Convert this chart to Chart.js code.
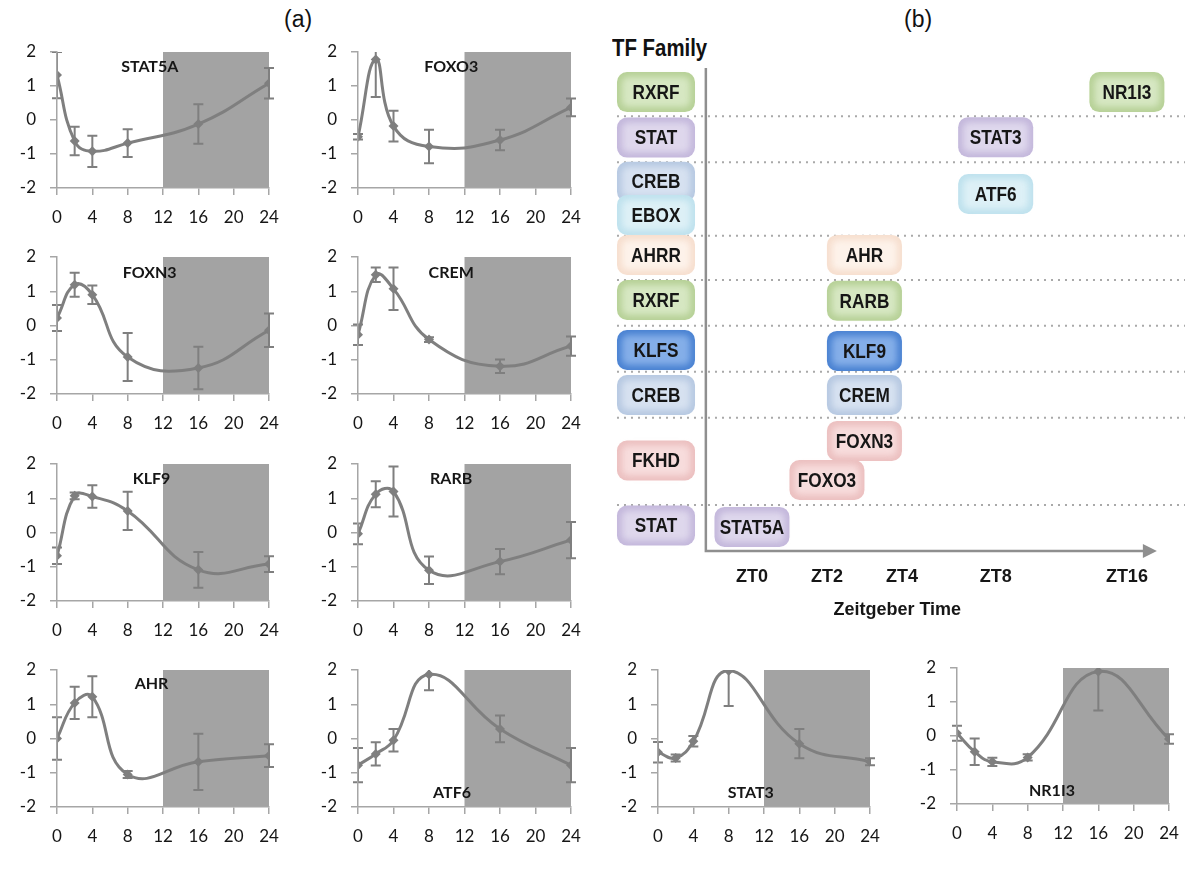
<!DOCTYPE html>
<html>
<head>
<meta charset="utf-8">
<title>TF expression profiles</title>
<script src="https://cdn.jsdelivr.net/npm/chart.js@4.4.1/dist/chart.umd.min.js"></script>
<style>
html,body{margin:0;padding:0;background:#fff}
body{position:relative;width:1200px;height:871px;overflow:hidden}
canvas{position:absolute}
.lbl{position:absolute;color:#111;white-space:nowrap}
.panel{font:23px "Liberation Sans",Arial,sans-serif}
.tf{font:bold 24px "Liberation Sans",Arial,sans-serif;transform:scaleX(.85);transform-origin:left top}
</style>
</head>
<body>
<div class="lbl panel" style="left:284px;top:6px">(a)</div>
<div class="lbl panel" style="left:904px;top:6px">(b)</div>
<div class="lbl tf" style="left:612px;top:34px">TF Family</div>
<script>
// (a) time-course profiles, sampled at these hours
const hours=[0,2,4,8,16,24];
const darkPeriod=[12,24];

const geneNames=["STAT5A","FOXO3","FOXN3","CREM","KLF9","RARB","AHR","ATF6","STAT3","NR1I3"];
const stat5a=[1.32,-0.62,-0.92,-0.68,-0.12,1.08];
const stat5aErr=[0.68,0.42,0.46,0.41,0.58,0.45];
const foxo3=[-0.49,1.78,-0.18,-0.78,-0.59,0.37];
const foxo3Err=[0.08,1.1,0.45,0.49,0.3,0.26];
const foxn3=[0.22,1.19,0.9,-0.92,-1.24,-0.14];
const foxn3Err=[0.38,0.35,0.27,0.7,0.62,0.49];
const crem=[-0.27,1.48,1.07,-0.41,-1.19,-0.6];
const cremErr=[0.3,0.21,0.62,0.07,0.2,0.28];
const klf9=[-0.68,1.07,1.05,0.63,-1.09,-0.92];
const klf9Err=[0.24,0.1,0.33,0.56,0.52,0.23];
const rarb=[-0.04,1.12,1.2,-1.1,-0.85,-0.22];
const rarbErr=[0.3,0.38,0.73,0.4,0.37,0.53];
const ahr=[0,1.04,1.22,-1.05,-0.68,-0.5];
const ahrErr=[0.62,0.47,0.6,0.1,0.82,0.33];
const atf6=[-0.78,-0.45,-0.05,1.87,0.28,-0.78];
const atf6Err=[0.5,0.34,0.33,0.46,0.39,0.5];
const stat3=[-0.4,-0.57,-0.08,1.98,-0.15,-0.68];
const stat3Err=[0.3,0.1,0.15,1.03,0.43,0.1];
const nr1i3=[0.08,-0.46,-0.76,-0.63,1.9,-0.09];
const nr1i3Err=[0.22,0.39,0.12,0.09,1.15,0.14];
const series=[stat5a,foxo3,foxn3,crem,klf9,rarb,ahr,atf6,stat3,nr1i3];
const errors=[stat5aErr,foxo3Err,foxn3Err,cremErr,klf9Err,rarbErr,ahrErr,atf6Err,stat3Err,nr1i3Err];
// where the gene name sits, in data units
const nameX=[10.5,10.5,10.5,10.5,10.7,10.5,10.7,10.6,10.5,10.75];
const nameY=[1.57,1.57,1.53,1.54,1.56,1.56,1.59,-1.58,-1.58,-1.61];

// (b) peak-time diagram
const familyNames=["RXRF","STAT","CREB","EBOX","AHRR","RXRF","KLFS","CREB","FKHD","STAT"];
const familyRows=[0,1,1.97,2.7,3.58,4.57,5.67,6.66,8.1,9.53];
const tfNames=["NR1I3","STAT3","ATF6","AHR","RARB","KLF9","CREM","FOXN3","FOXO3","STAT5A"];
const tfFamily=["RXRF","STAT","EBOX","AHRR","RXRF","KLFS","CREB","FKHD","FKHD","STAT"];
const tfPeak=[10,6.5,6.5,3,3,3,3,3,2,0];
const tfRows=[0,0.99,2.24,3.58,4.59,5.69,6.66,7.67,8.53,9.56];
const rowBreaks=[0.53,1.54,3.16,4.13,5.14,6.15,7.16,9.08];
const ztTicks=[0,2,4,6.5,10];
const ztLabels=["ZT0","ZT2","ZT4","ZT8","ZT16"];

// layout / style
const plotBoxes=[[57,52,269,188],[358,52,571,188],[57,257,269,394],[358,257,571,394],[57,464,269,601],[358,464,571,601],[57,670,269,807],[358,670,571,807],[658,670,870,807],[957,668,1169,804]];
const LINE="#7f7f7f",AXIS="#a6a6a6",SHADE="#a3a3a3",INK="#161616";
const boxColors={RXRF:["#b7d197","#d6e7c2"],STAT:["#c4b8dc","#ded7ec"],CREB:["#b7c9e2","#d6e1f0"],EBOX:["#bfe2ee","#ddf0f6"],AHRR:["#f7dfcf","#fdf2ea"],KLFS:["#4a82d2","#84aee8"],FKHD:["#ecc0c0","#f7dcdc"]};
const NARROW='"Liberation Sans",Arial,sans-serif';

const shade={id:"shade",beforeDatasetsDraw(chart){
  const {ctx,scales:{x,y}}=chart;
  const x0=x.getPixelForValue(darkPeriod[0]),x1=x.getPixelForValue(darkPeriod[1]);
  const y0=y.getPixelForValue(y.max),y1=y.getPixelForValue(y.min);
  ctx.save();ctx.fillStyle=SHADE;ctx.fillRect(x0,y0,x1-x0,y1-y0);ctx.restore();
}};

const errorBars={id:"errorBars",afterDatasetsDraw(chart){
  const {ctx,scales:{x,y},chartArea:a}=chart;
  const i=chart.options.plugins.geneIdx;
  ctx.save();
  ctx.beginPath();ctx.rect(a.left-8,a.top,a.width+16,a.height);ctx.clip();
  ctx.strokeStyle=LINE;ctx.lineWidth=2;
  hours.forEach((h,j)=>{
    const px=x.getPixelForValue(h);
    const hi=y.getPixelForValue(series[i][j]+errors[i][j]);
    const lo=y.getPixelForValue(series[i][j]-errors[i][j]);
    ctx.beginPath();
    ctx.moveTo(px,hi);ctx.lineTo(px,lo);
    ctx.moveTo(px-5,hi);ctx.lineTo(px+5,hi);
    ctx.moveTo(px-5,lo);ctx.lineTo(px+5,lo);
    ctx.stroke();
  });
  ctx.fillStyle=INK;ctx.font="bold 16px Lato, 'Open Sans', sans-serif";
  ctx.textAlign="center";ctx.textBaseline="middle";
  ctx.fillText(geneNames[i],x.getPixelForValue(nameX[i]),y.getPixelForValue(nameY[i]));
  ctx.restore();
}};

function smallChart(i){
  const [l,t,r,b]=plotBoxes[i];
  const cv=document.createElement("canvas");
  const W=r-l+77,H=b-t+54;
  cv.width=W;cv.height=H;
  cv.style.left=(l-57)+"px";cv.style.top=(t-12)+"px";
  document.body.appendChild(cv);
  const tickFont={family:"Lato, 'Open Sans', sans-serif",size:17};
  new Chart(cv,{
    type:"line",
    data:{datasets:[{
      data:hours.map((h,j)=>({x:h,y:series[i][j]})),
      borderColor:LINE,backgroundColor:LINE,borderWidth:3,tension:0.45,
      pointStyle:"rectRot",pointRadius:5,pointBorderWidth:0
    }]},
    options:{
      responsive:false,animation:false,events:[],devicePixelRatio:1,
      layout:{padding:{left:0,top:12,right:20,bottom:0}},
      plugins:{legend:{display:false},tooltip:{enabled:false},geneIdx:i},
      scales:{
        x:{type:"linear",min:0,max:24,
          afterFit(s){s.height=42;s.paddingLeft=0;s.paddingRight=0;},
          ticks:{stepSize:4,padding:12,color:INK,font:tickFont,maxRotation:0},
          grid:{drawOnChartArea:false,color:AXIS,lineWidth:1.5,tickLength:7},
          border:{color:AXIS,width:1.5,z:1}},
        y:{type:"linear",min:-2,max:2,
          afterFit(s){s.width=57;s.paddingTop=0;s.paddingBottom=0;},
          ticks:{stepSize:1,padding:14,color:INK,font:tickFont},
          grid:{drawOnChartArea:false,color:AXIS,lineWidth:1.5,tickLength:7},
          border:{color:AXIS,width:1.5,z:1}}
      }
    },
    plugins:[shade,errorBars]
  });
}
geneNames.forEach((g,i)=>smallChart(i));

// (b)
function drawBox(ctx,cx,cy,w,h,text,fam){
  const [edge,mid]=boxColors[fam];
  ctx.save();
  ctx.fillStyle=edge;ctx.beginPath();ctx.roundRect(cx-w/2,cy-h/2,w,h,10);ctx.fill();
  ctx.filter="blur(3px)";ctx.fillStyle=mid;
  ctx.beginPath();ctx.roundRect(cx-w/2+5,cy-h/2+5,w-10,h-10,6);ctx.fill();
  ctx.filter="none";
  ctx.fillStyle=INK;ctx.font="bold 21px "+NARROW;ctx.textAlign="center";ctx.textBaseline="middle";
  ctx.translate(cx,cy+1);ctx.scale(0.82,1);ctx.fillText(text,0,0);
  ctx.restore();
}

const familyCol=-2.56,timeAxisX=-1.23,arrowTip=10.8;
const diagram={id:"diagram",afterDatasetsDraw(chart){
  const {ctx,scales:{x,y},chartArea:a}=chart;
  const fx=x.getPixelForValue(familyCol);
  ctx.save();
  ctx.strokeStyle="#a9a9a9";ctx.lineWidth=2;ctx.setLineDash([2,5]);
  rowBreaks.forEach(v=>{
    const py=y.getPixelForValue(v);
    ctx.beginPath();ctx.moveTo(fx-39,py);ctx.lineTo(a.right,py);ctx.stroke();
  });
  ctx.setLineDash([]);
  const ax=x.getPixelForValue(timeAxisX),tip=x.getPixelForValue(arrowTip);
  ctx.strokeStyle="#8f8f8f";ctx.lineWidth=2.5;
  ctx.beginPath();ctx.moveTo(ax,a.top);ctx.lineTo(ax,a.bottom);ctx.lineTo(tip-12,a.bottom);ctx.stroke();
  ctx.fillStyle="#8f8f8f";ctx.beginPath();
  ctx.moveTo(tip,a.bottom);ctx.lineTo(tip-14,a.bottom-7);ctx.lineTo(tip-14,a.bottom+7);ctx.closePath();ctx.fill();
  ctx.restore();
  familyNames.forEach((n,i)=>drawBox(ctx,fx,y.getPixelForValue(familyRows[i]),78,40,n,n));
  tfNames.forEach((n,i)=>drawBox(ctx,x.getPixelForValue(tfPeak[i]),y.getPixelForValue(tfRows[i]),75,40,n,tfFamily[i]));
}};

const cvB=document.createElement("canvas");
cvB.width=600;cvB.height=600;cvB.style.left="600px";cvB.style.top="30px";
document.body.appendChild(cvB);
new Chart(cvB,{
  type:"scatter",
  data:{datasets:[
    {label:"TF",data:tfNames.map((n,i)=>({x:tfPeak[i],y:tfRows[i]})),pointRadius:0},
    {label:"Family",data:familyNames.map((n,i)=>({x:familyCol,y:familyRows[i]})),pointRadius:0}
  ]},
  options:{
    responsive:false,animation:false,events:[],devicePixelRatio:1,
    layout:{padding:{left:9.5,right:15,top:38,bottom:0}},
    plugins:{legend:{display:false},tooltip:{enabled:false}},
    scales:{
      x:{type:"linear",min:-3.8,max:11.55,
        afterBuildTicks(s){s.ticks=ztTicks.map(v=>({value:v}));},
        afterFit(s){s.height=79;s.paddingLeft=0;s.paddingRight=0;},
        grid:{display:false,drawTicks:false},border:{display:false},
        ticks:{padding:15,color:INK,autoSkip:false,maxRotation:0,font:{family:NARROW,weight:"bold",size:18},
          callback:v=>ztLabels[ztTicks.indexOf(v)]},
        title:{display:true,text:"Zeitgeber Time",color:INK,font:{family:NARROW,weight:"bold",size:18},padding:{top:0,bottom:9}}},
      y:{type:"linear",reverse:true,min:-0.53,max:10.09,display:false}
    }
  },
  plugins:[diagram]
});
</script>
</body>
</html>
